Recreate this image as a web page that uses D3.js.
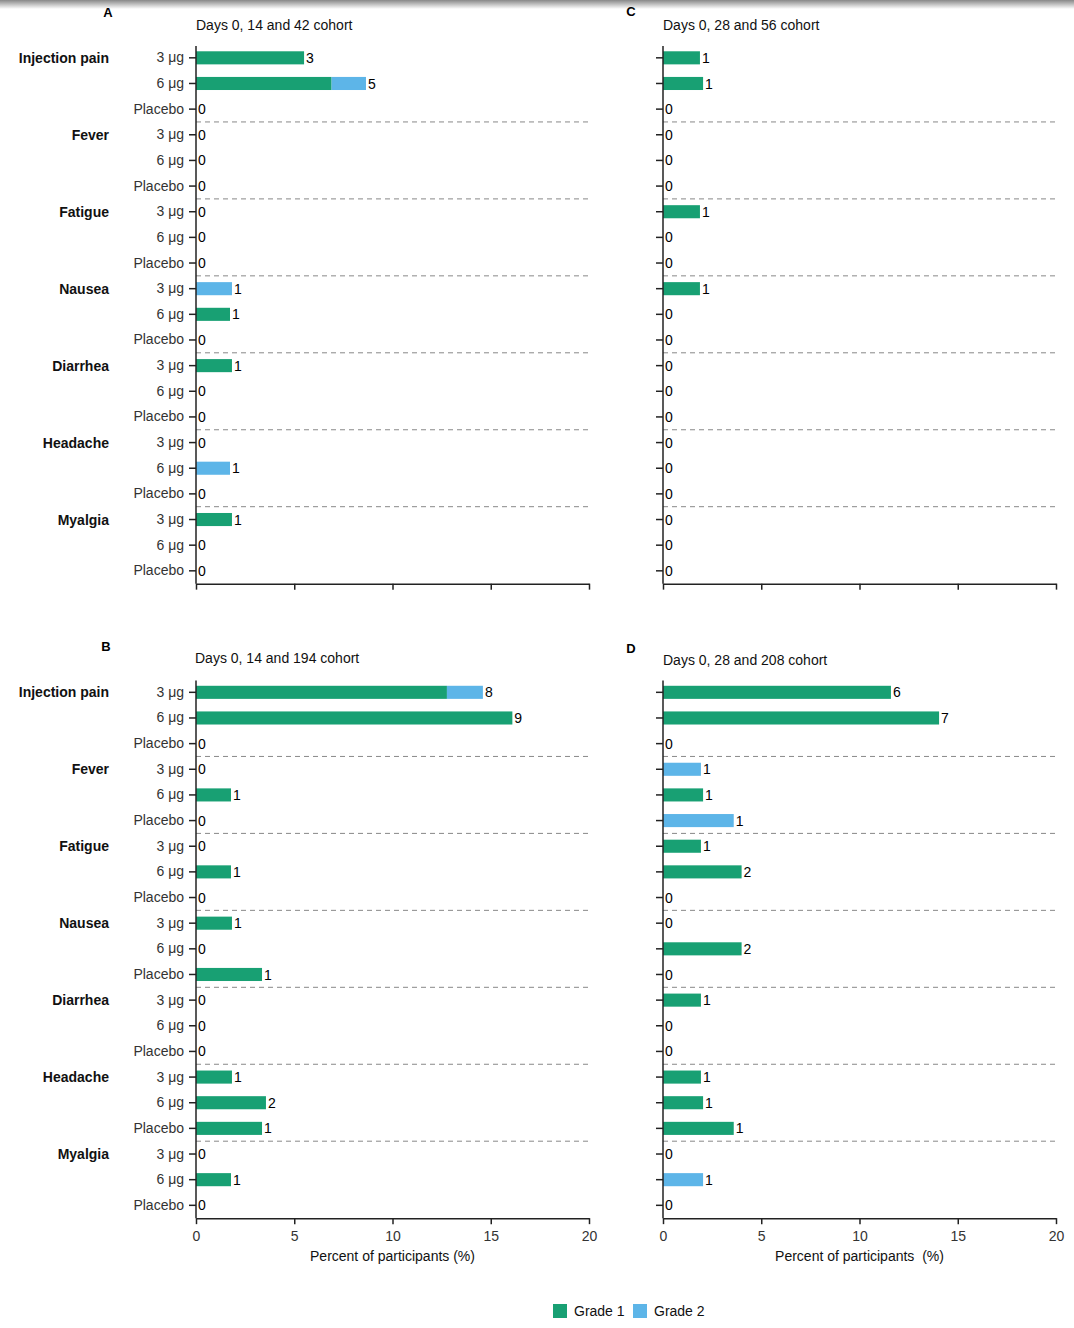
<!DOCTYPE html>
<head>
  <meta charset="utf-8">
  <script src="https://d3js.org/d3.v7.min.js"></script>
  <style>
body { margin: 0; background: #fff; }
text { font-family: "Liberation Sans", Arial, sans-serif; }
.ylab { font-size: 15px; fill: #444; font-family: "Liberation Sans", Arial, sans-serif; }
.grp { font-size: 14px; font-weight: 700; fill: #111; }
.val { font-size: 14px; fill: #000; }
.ttl { font-size: 14px; fill: #111; }
.letter { font-size: 13px; font-weight: 700; fill: #000; }
.axis path, .axis line { stroke: #222; stroke-width: 1.5px; }
.axis text { font-size: 14px; fill: #333; font-family: "Liberation Sans", Arial, sans-serif; }
.sep { stroke: #888; stroke-dasharray: 5,4; stroke-width: 1px; }
  </style>
</head>
<body>
<script>

var groups = ["Injection pain", "Fever", "Fatigue", "Nausea", "Diarrhea", "Headache", "Myalgia"];
var doses = ["3 μg", "6 μg", "Placebo"];
var xTicks = [0, 5, 10, 15, 20];

// percent of participants per row (group x dose), grade 1 and grade 2
var grade1A = [5.5, 6.9, 0, 0, 0, 0, 0, 0, 0, 0, 1.73, 0, 1.83, 0, 0, 0, 0, 0, 1.83, 0, 0];
var grade2A = [0, 1.75, 0, 0, 0, 0, 0, 0, 0, 1.83, 0, 0, 0, 0, 0, 0, 1.73, 0, 0, 0, 0];
var countA  = [3, 5, 0, 0, 0, 0, 0, 0, 0, 1, 1, 0, 1, 0, 0, 0, 1, 0, 1, 0, 0];

var grade1C = [1.88, 2.04, 0, 0, 0, 0, 1.88, 0, 0, 1.88, 0, 0, 0, 0, 0, 0, 0, 0, 0, 0, 0];
var grade2C = [0, 0, 0, 0, 0, 0, 0, 0, 0, 0, 0, 0, 0, 0, 0, 0, 0, 0, 0, 0, 0];
var countC  = [1, 1, 0, 0, 0, 0, 1, 0, 0, 1, 0, 0, 0, 0, 0, 0, 0, 0, 0, 0, 0];

var grade1B = [12.77, 16.1, 0, 0, 1.78, 0, 0, 1.78, 0, 1.83, 0, 3.36, 0, 0, 0, 1.83, 3.56, 3.36, 0, 1.78, 0];
var grade2B = [1.83, 0, 0, 0, 0, 0, 0, 0, 0, 0, 0, 0, 0, 0, 0, 0, 0, 0, 0, 0, 0];
var countB  = [8, 9, 0, 0, 1, 0, 0, 1, 0, 1, 0, 1, 0, 0, 0, 1, 2, 1, 0, 1, 0];

var grade1D = [11.6, 14.05, 0, 0, 2.04, 0, 1.93, 4.0, 0, 0, 4.0, 0, 1.93, 0, 0, 1.93, 2.04, 3.6, 0, 0, 0];
var grade2D = [0, 0, 0, 1.93, 0, 3.6, 0, 0, 0, 0, 0, 0, 0, 0, 0, 0, 0, 0, 0, 2.04, 0];
var countD  = [6, 7, 0, 1, 1, 1, 1, 2, 0, 0, 2, 0, 1, 0, 0, 1, 1, 1, 0, 1, 0];

var green = "#18a073", blue = "#5db5e8";

var svg = d3.select("body").append("svg")
  .attr("width", 1074)
  .attr("height", 1328);

// faint shadow strip along the top edge
var grad = svg.append("defs").append("linearGradient")
  .attr("id", "shade").attr("x1", 0).attr("x2", 0).attr("y1", 0).attr("y2", 1);
grad.append("stop").attr("offset", 0).attr("stop-color", "#888");
grad.append("stop").attr("offset", 1).attr("stop-color", "#fff");
svg.append("rect").attr("width", 1074).attr("height", 9).attr("fill", "url(#shade)");

var rows = [];
groups.forEach(function(g) { doses.forEach(function(d) { rows.push(g + "|" + d); }); });

function panel(opt) {
  var x = d3.scaleLinear().domain([0, 20]).range([opt.x0, opt.x0 + 393]);
  var y = d3.scaleBand().domain(rows).range([opt.y0, opt.y0 + 21 * 25.65]).paddingInner(0.49).paddingOuter(0.245);
  var g = svg.append("g");
  var step = y.step();

  g.append("text").attr("class", "letter").attr("x", opt.lx).attr("y", opt.ly)
    .attr("text-anchor", "middle").text(opt.letter);
  g.append("text").attr("class", "ttl").attr("x", opt.tx).attr("y", opt.ty).text(opt.title);

  // dashed separators between groups
  for (var k = 1; k < groups.length; k++) {
    var yy = opt.y0 + k * 3 * step;
    g.append("line").attr("class", "sep")
      .attr("x1", x(0)).attr("x2", x(20) - 1).attr("y1", yy).attr("y2", yy);
  }

  var data = rows.map(function(r, i) {
    return { key: r, g1: opt.g1[i], g2: opt.g2[i], n: opt.n[i] };
  });

  g.selectAll(".b1").data(data).enter().append("rect")
    .attr("x", x(0)).attr("y", function(d) { return y(d.key); })
    .attr("width", function(d) { return x(d.g1) - x(0); })
    .attr("height", y.bandwidth()).attr("fill", green);
  g.selectAll(".b2").data(data).enter().append("rect")
    .attr("x", function(d) { return x(d.g1); }).attr("y", function(d) { return y(d.key); })
    .attr("width", function(d) { return x(d.g1 + d.g2) - x(d.g1); })
    .attr("height", y.bandwidth()).attr("fill", blue);
  g.selectAll(".val").data(data).enter().append("text")
    .attr("class", "val")
    .attr("x", function(d) { return x(d.g1 + d.g2) + 2; })
    .attr("y", function(d) { return y(d.key) + y.bandwidth() / 2; })
    .attr("dy", "0.36em").text(function(d) { return d.n; });

  var ya = g.append("g").attr("class", "axis").attr("transform", "translate(" + x(0) + ",0)")
    .call(d3.axisLeft(y).tickSize(7).tickSizeOuter(0)
      .tickFormat(function(d) { return opt.labels ? d.split("|")[1] : ""; }));
  ya.select(".domain").attr("d", "M0," + (opt.y0 + 1) + "V" + (opt.y0 + 21 * step));
  ya.selectAll("text").attr("class", "ylab").attr("x", -12);

  if (opt.labels) {
    g.selectAll(".grp").data(groups).enter().append("text")
      .attr("class", "grp").attr("text-anchor", "end").attr("x", 109)
      .attr("y", function(d) { return y(d + "|" + doses[0]) + y.bandwidth() / 2; })
      .attr("dy", "0.36em").text(function(d) { return d; });
  }

  var xa = g.append("g").attr("class", "axis")
    .attr("transform", "translate(0," + (opt.y0 + 21 * step) + ")")
    .call(d3.axisBottom(x).tickValues(xTicks).tickSize(6).tickSizeOuter(0)
      .tickFormat(opt.tickLabels ? d3.format("d") : ""));
  xa.selectAll("text").attr("y", 13).attr("dy", "0.71em");
  if (opt.xTitle) {
    g.append("text").attr("class", "ttl").attr("text-anchor", "middle")
      .attr("x", x(10)).attr("y", opt.y0 + 21 * step + 43).text(opt.xTitle);
  }
}

panel({ letter: "A", lx: 108, ly: 17, title: "Days 0, 14 and 42 cohort", tx: 196, ty: 30,
  x0: 196, y0: 45, g1: grade1A, g2: grade2A, n: countA, labels: true });
panel({ letter: "C", lx: 631, ly: 16, title: "Days 0, 28 and 56 cohort", tx: 663, ty: 30,
  x0: 663, y0: 45, g1: grade1C, g2: grade2C, n: countC, labels: false });
panel({ letter: "B", lx: 106, ly: 651, title: "Days 0, 14 and 194 cohort", tx: 195, ty: 663,
  x0: 196, y0: 679.5, g1: grade1B, g2: grade2B, n: countB, labels: true,
  tickLabels: true, xTitle: "Percent of participants (%)" });
panel({ letter: "D", lx: 631, ly: 653, title: "Days 0, 28 and 208 cohort", tx: 663, ty: 665,
  x0: 663, y0: 679.5, g1: grade1D, g2: grade2D, n: countD, labels: false,
  tickLabels: true, xTitle: "Percent of participants\u00a0\u00a0(%)" });

// legend
var legend = [["Grade 1", green, 553], ["Grade 2", blue, 633]];
var lg = svg.append("g").selectAll("g").data(legend).enter().append("g");
lg.append("rect").attr("x", function(d) { return d[2]; }).attr("y", 1304)
  .attr("width", 14).attr("height", 14).attr("fill", function(d) { return d[1]; });
lg.append("text").attr("class", "ttl").attr("x", function(d) { return d[2] + 21; }).attr("y", 1316)
  .text(function(d) { return d[0]; });

</script>
</body>
